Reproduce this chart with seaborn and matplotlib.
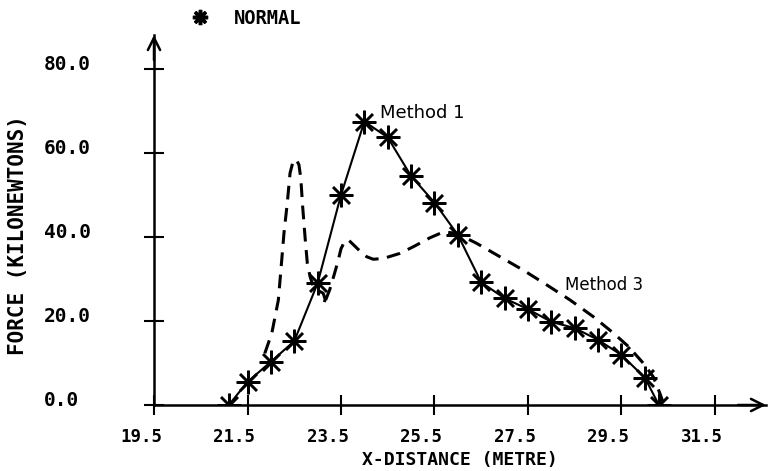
import matplotlib
matplotlib.use("Agg")
import matplotlib.pyplot as plt
from matplotlib.lines import Line2D
from matplotlib.transforms import ScaledTranslation
import seaborn as sns
import pandas as pd

# Method 1 (solid line with star markers)
m1_x = [21.1, 21.5, 22.0, 22.5, 23.0, 23.5, 24.0, 24.5, 25.0, 25.5, 26.0,
        26.5, 27.0, 27.5, 28.0, 28.5, 29.0, 29.5, 30.0, 30.3]
m1_y = [0.0, 5.5, 10.3, 15.2, 29.0, 50.0, 67.5, 63.7, 54.5, 48.2, 40.5,
        29.2, 25.4, 22.8, 19.8, 18.3, 15.5, 11.9, 6.5, 0.0]

# Method 3 (dashed line)
m3_x = [21.87, 22.02, 22.16, 22.22, 22.28, 22.35, 22.41, 22.47, 22.54, 22.60,
        22.64, 22.68, 22.73, 22.78, 22.84, 22.90, 23.02, 23.12, 23.16, 23.13,
        23.26, 23.34, 23.43, 23.50, 23.58, 23.66, 23.78, 23.91, 24.05, 24.19,
        24.41, 24.76, 25.05, 25.40, 25.69, 25.97, 26.40, 26.90, 27.40, 27.90,
        28.40, 28.90, 29.33, 29.65, 29.97, 30.18, 30.32, 30.40]
m3_y = [12.3, 17.1, 25.0, 32.9, 40.9, 48.0, 55.2, 57.8, 58.5, 57.2,
        54.0, 47.2, 40.1, 33.7, 30.5, 28.5, 27.2, 26.6, 25.2, 23.8,
        27.5, 30.5, 34.0, 37.2, 39.0, 39.3, 38.0, 36.6, 35.3, 34.7,
        34.9, 36.1, 37.7, 39.8, 41.2, 40.9, 38.5, 35.3, 32.1, 28.6,
        25.0, 21.0, 17.1, 13.9, 9.9, 6.7, 2.8, 0.3]

x_ticks = [19.5, 21.5, 23.5, 25.5, 27.5, 29.5, 31.5]
x_tick_labels = ["19.5", "21.5", "23.5", "25.5", "27.5", "29.5", "31.5"]
y_ticks = [0, 20, 40, 60, 80]
y_tick_labels = ["0.0", "20.0", "40.0", "60.0", "80.0"]

df1 = pd.DataFrame({"x": m1_x, "y": m1_y})
df3 = pd.DataFrame({"x": m3_x, "y": m3_y})

sns.set_style("white")
plt.rcParams["font.family"] = ["DejaVu Sans Mono", "DejaVu Sans"]
plt.rcParams["text.color"] = "black"
plt.rcParams["axes.labelcolor"] = "black"

fig = plt.figure(figsize=(7.68, 4.71), dpi=100)
ax = fig.add_axes([154 / 768, 66 / 471, (766 - 154) / 768, (405 - 35) / 471])

star = (8, 2, 0)
sns.lineplot(data=df3, x="x", y="y", ax=ax, sort=False, estimator=None,
             color="black", lw=2.2, dashes=False, linestyle=(0, (4.5, 2.8)))
sns.lineplot(data=df1, x="x", y="y", ax=ax, sort=False, estimator=None,
             color="black", lw=1.5, marker=star, markersize=17,
             markeredgewidth=1.8, markeredgecolor="black")

ax.set_xlim(19.5, 19.5 + (766 - 154) / 46.75)
ax.set_ylim(0, 370 / 4.2)

for s in ["top", "right"]:
    ax.spines[s].set_visible(False)
for s in ["left", "bottom"]:
    ax.spines[s].set_linewidth(1.8)
    ax.spines[s].set_color("black")

# arrowheads on axes
xmax = ax.get_xlim()[1]
ymax = ax.get_ylim()[1]
ax.annotate("", xy=(xmax, 0), xytext=(xmax - 0.6, 0),
            arrowprops=dict(arrowstyle="->", lw=1.8, color="black",
                            mutation_scale=22, shrinkA=0, shrinkB=0),
            annotation_clip=False)
ax.annotate("", xy=(19.5, ymax), xytext=(19.5, ymax - 6),
            arrowprops=dict(arrowstyle="->", lw=1.8, color="black",
                            mutation_scale=22, shrinkA=0, shrinkB=0),
            annotation_clip=False)

ax.set_xticks(x_ticks)
ax.set_xticklabels(x_tick_labels, fontsize=12.5, fontweight="bold")
ax.set_yticks(y_ticks)
ax.set_yticklabels(y_tick_labels, fontsize=14, fontweight="bold")
ax.tick_params(axis="both", direction="inout", length=15, width=1.5,
               color="black", labelcolor="black", bottom=True, left=True)
ax.tick_params(axis="x", pad=9)
ax.tick_params(axis="y", pad=72)
for lab in ax.get_yticklabels():
    lab.set_horizontalalignment("left")
    lab.set_transform(lab.get_transform() + ScaledTranslation(0, 0.06, fig.dpi_scale_trans))
for lab in ax.get_xticklabels():
    lab.set_transform(lab.get_transform() + ScaledTranslation(-0.13, 0, fig.dpi_scale_trans))

ax.set_xlabel("X-DISTANCE (METRE)", fontsize=13, fontweight="bold", labelpad=4,
              color="black")
ax.set_ylabel("FORCE (KILONEWTONS)", fontsize=15, fontweight="bold", color="black")
ax.yaxis.set_label_coords(-(154 - 28) / 612, 0.46)

ax.text(24.33, 69.5, "Method 1", fontsize=13, family="DejaVu Sans",
        ha="left", va="center", color="black")
ax.text(28.29, 28.6, "Method 3", fontsize=12, family="DejaVu Sans",
        ha="left", va="center", color="black")

handle = Line2D([], [], linestyle="none", marker=star, markersize=11,
                markeredgewidth=2.5, color="black")
leg = fig.legend(handles=[handle], labels=["NORMAL"], loc="center left",
                 bbox_to_anchor=(172 / 768, 1 - 18 / 471), frameon=False,
                 prop=dict(family="DejaVu Sans Mono", weight="bold", size=13.5),
                 handletextpad=1.2, handlelength=1.2, labelcolor="black")

ax.grid(False)
fig.savefig("out.png", dpi=100)
